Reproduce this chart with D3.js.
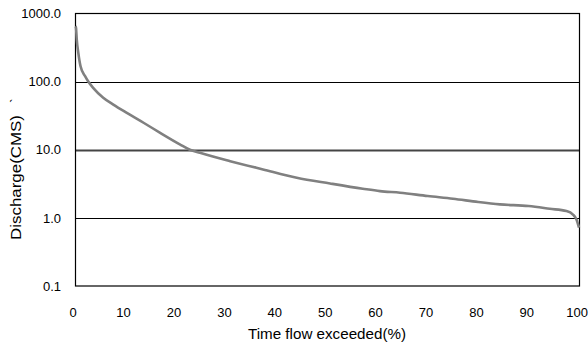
<!DOCTYPE html>
<html><head><meta charset="utf-8">
<script src="https://cdn.jsdelivr.net/npm/d3@7/dist/d3.min.js"></script>
<style>body{margin:0;background:#fff}svg{display:block}text{font-family:"Liberation Sans",Arial,sans-serif;fill:#000}</style>
</head><body><svg id="c" width="588" height="349"></svg>
<script>
const percent = [0.1,0.2,0.35,0.65,1.1,2.0,2.6,3.6,5.6,7.6,10.2,13.6,16.9,20.8,22.8,24.8,30.8,37.3,44,50.6,57.1,60.5,64.5,70,75,80,84.3,90,94.2,97.5,98.8,99.5,100];
const discharge = [650,615,414,267,168,120,101,81,58,46,35,24.9,17.7,12.0,10,9.0,6.8,5.14,3.88,3.2,2.68,2.47,2.34,2.09,1.91,1.71,1.58,1.49,1.36,1.26,1.12,0.95,0.72];
const xTicks = [0,10,20,30,40,50,60,70,80,90,100];
const yTicks = [0.1,1,10,100,1000];

const svg = d3.select("#c");
const x = d3.scaleLinear().domain([0,100]).range([75,579]);
const y = d3.scaleLog().domain([0.1,1000]).range([286,13.5]);

// gridlines
svg.append("g").selectAll("line").data([1,10,100]).join("line")
  .attr("x1",x(0)).attr("x2",x(100))
  .attr("y1",d=>Math.round(y(d))+0.5).attr("y2",d=>Math.round(y(d))+0.5)
  .attr("stroke",d=>d===10?"#444":"#000").attr("stroke-width",d=>d===10?2:1);

// border
svg.append("rect").attr("x",x(0)+0.5).attr("y",y(1000)).attr("width",x(100)-x(0)).attr("height",y(0.1)-y(1000))
  .attr("fill","none").attr("stroke","#000").attr("stroke-width",1.2);

// curve
const line = d3.line().x((d,i)=>x(percent[i])).y(d=>y(d)).curve(d3.curveMonotoneX);
svg.append("path").datum(discharge).attr("d",line).attr("fill","none")
  .attr("stroke","#808080").attr("stroke-width",2.6).attr("stroke-linejoin","round");

// y tick labels
svg.append("g").selectAll("text").data(yTicks).join("text")
  .attr("x",61).attr("y",d=>y(d)).attr("dy","0.36em").attr("text-anchor","end")
  .style("font-size","13px").text(d=>d3.format(".1f")(d));

// x tick labels
svg.append("g").selectAll("text").data(xTicks).join("text")
  .attr("x",d=>x(d)-1.8).attr("y",317).attr("text-anchor","middle")
  .style("font-size","13px").text(d=>d);

// axis titles
svg.append("text").attr("x",327).attr("y",339).attr("text-anchor","middle")
  .style("font-size","14px").attr("textLength",158).attr("lengthAdjust","spacingAndGlyphs")
  .text("Time flow exceeded(%)");
const yl = svg.append("text").attr("transform","translate(21,240) rotate(-90)").attr("text-anchor","start")
  .style("font-size","14px");
yl.append("tspan").attr("textLength",125).attr("lengthAdjust","spacingAndGlyphs").text("Discharge(CMS)");
yl.append("tspan").attr("dx",12).text("`");
</script></body></html>
